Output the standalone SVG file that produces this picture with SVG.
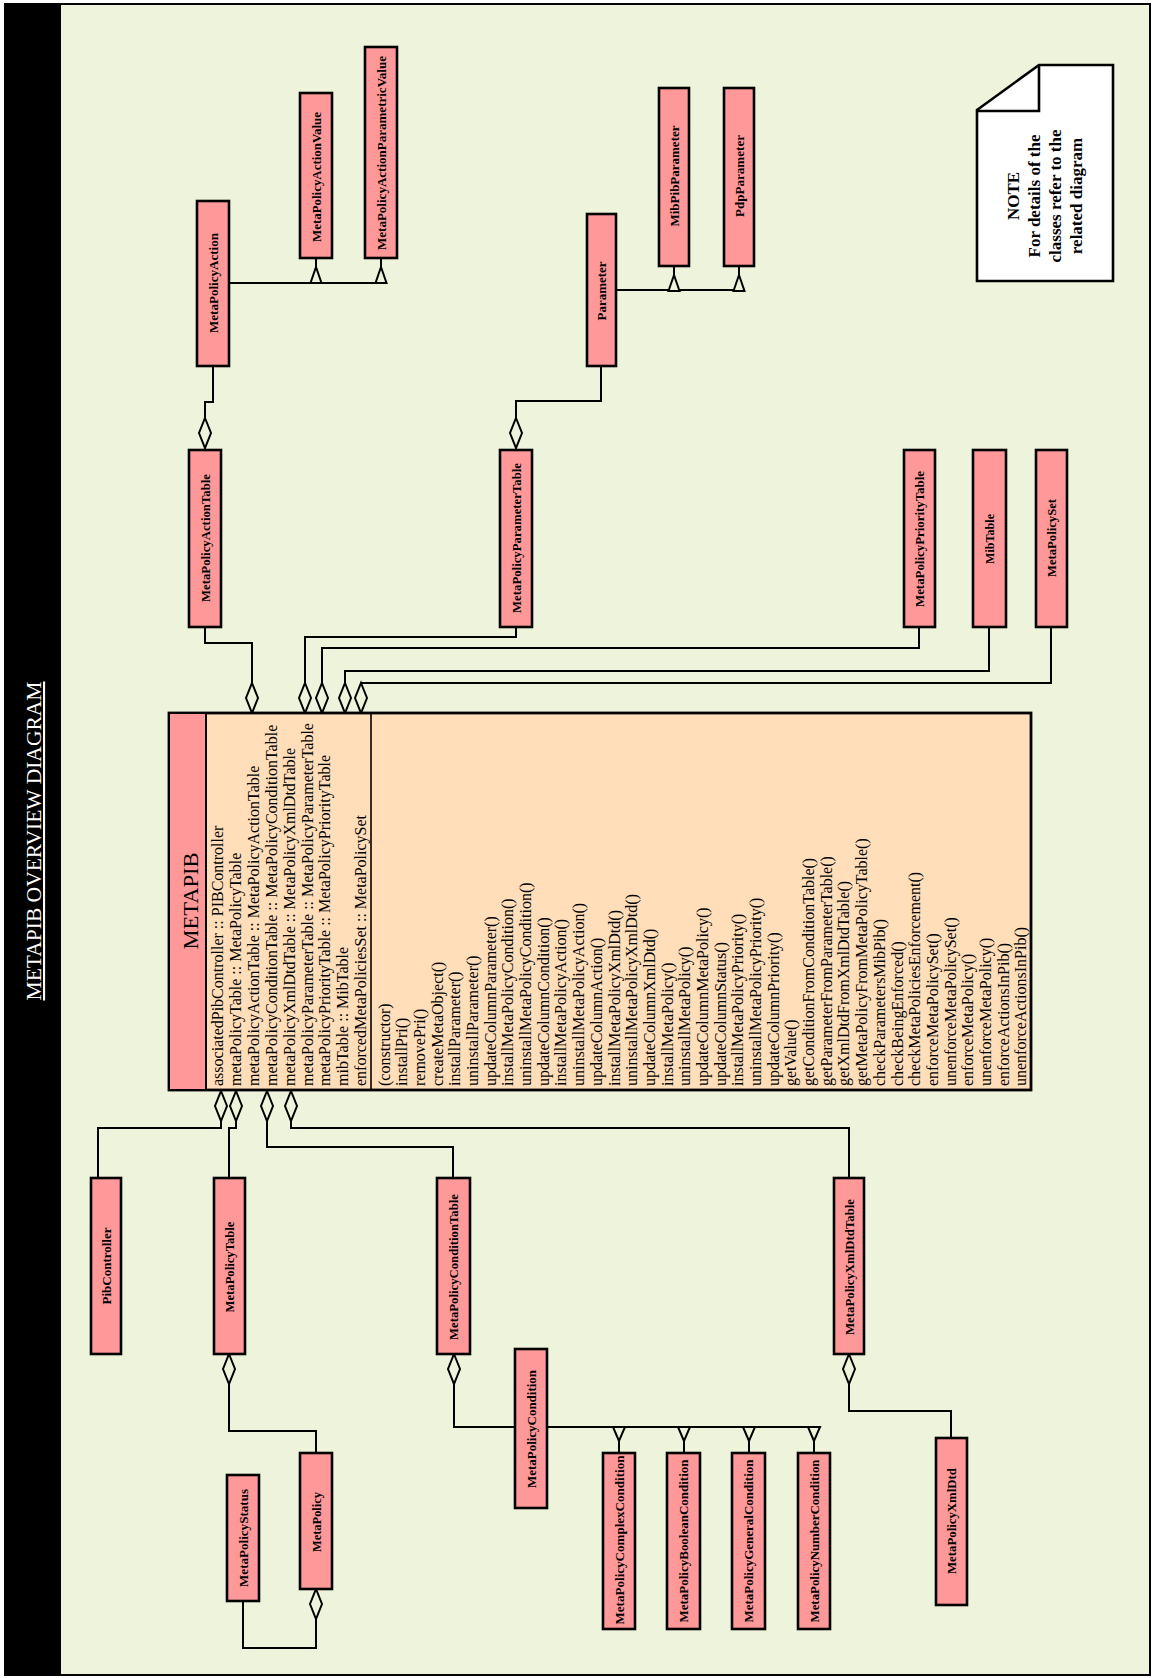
<svg xmlns="http://www.w3.org/2000/svg" width="1154" height="1678" viewBox="0 0 1154 1678">
<style>
.bg{fill:#eef4dc}
.box{fill:#ff9999;stroke:#000;stroke-width:2.6}
.cls{fill:#ffdeb9;stroke:#000;stroke-width:2.8}
.sep{stroke:#000;stroke-width:1.6}
.cn{font-family:"Liberation Serif","Times New Roman",serif;font-weight:bold;font-size:13px;fill:#000;text-anchor:middle}
.mem{font-family:"Liberation Serif","Times New Roman",serif;font-size:16px;fill:#000}
.ttl{font-family:"Liberation Serif","Times New Roman",serif;font-size:21px;fill:#000;text-anchor:middle}
.dtitle{font-family:"Liberation Serif","Times New Roman",serif;font-size:21px;fill:#fff;text-anchor:middle;text-decoration:underline}
.note{font-family:"Liberation Serif","Times New Roman",serif;font-weight:bold;font-size:17px;fill:#000;text-anchor:middle}
.ln{fill:none;stroke:#000;stroke-width:2}
.mk{fill:#eef4dc;stroke:#000;stroke-width:2}
</style>
<defs>
<path id="dia" d="M0,-15 L6,0 L0,15 L-6,0 Z"/>
<path id="triU" d="M0,0 L5.5,16 L-5.5,16 Z"/>
<path id="triD" d="M0,0 L-6,-14 L6,-14 Z"/>
</defs>
<rect x="5" y="4" width="1145" height="1671" class="bg" stroke="#000" stroke-width="2"/>
<rect x="5" y="4" width="56" height="1671" fill="#000"/>
<text class="dtitle" x="41" y="841" transform="rotate(-90 41 841)" textLength="319" lengthAdjust="spacingAndGlyphs">METAPIB OVERVIEW DIAGRAM</text>

<g id="connectors">
<polyline class="ln" points="229,283 387,283"/>
<polyline class="ln" points="316,258 316,267"/>
<polyline class="ln" points="381,258 381,267"/>
<use href="#triU" x="316" y="267" class="mk"/>
<use href="#triU" x="381" y="267" class="mk"/>
<polyline class="ln" points="616,290 745,290"/>
<polyline class="ln" points="674,266 674,275"/>
<polyline class="ln" points="739,266 739,275"/>
<use href="#triU" x="674" y="275" class="mk"/>
<use href="#triU" x="739" y="275" class="mk"/>
<polyline class="ln" points="213,366 213,402 205,402 205,418"/>
<use href="#dia" x="205" y="433" class="mk"/>
<polyline class="ln" points="601,366 601,401 516,401 516,418"/>
<use href="#dia" x="516" y="433" class="mk"/>
<polyline class="ln" points="205,627 205,643 252,643 252,683"/>
<polyline class="ln" points="516,627 516,637 305,637 305,683"/>
<polyline class="ln" points="919,627 919,648 322,648 322,683"/>
<polyline class="ln" points="989,627 989,671 345,671 345,683"/>
<polyline class="ln" points="1051,627 1051,683 361,683"/>
<use href="#dia" x="252" y="698" class="mk"/>
<use href="#dia" x="305" y="698" class="mk"/>
<use href="#dia" x="322" y="698" class="mk"/>
<use href="#dia" x="345" y="698" class="mk"/>
<use href="#dia" x="361" y="698" class="mk"/>
<polyline class="ln" points="221,1121 221,1128 98,1128 98,1178"/>
<polyline class="ln" points="236,1121 236,1128 229,1128 229,1178"/>
<polyline class="ln" points="267,1121 267,1147 453,1147 453,1178"/>
<polyline class="ln" points="291,1121 291,1128 849,1128 849,1178"/>
<use href="#dia" x="221" y="1106" class="mk"/>
<use href="#dia" x="236" y="1106" class="mk"/>
<use href="#dia" x="267" y="1106" class="mk"/>
<use href="#dia" x="291" y="1106" class="mk"/>
<polyline class="ln" points="229,1384 229,1431 316,1431 316,1453"/>
<use href="#dia" x="229" y="1369" class="mk"/>
<polyline class="ln" points="316,1619 316,1648 243,1648 243,1601"/>
<use href="#dia" x="316" y="1604" class="mk"/>
<polyline class="ln" points="454,1384 454,1427 515,1427"/>
<use href="#dia" x="454" y="1369" class="mk"/>
<polyline class="ln" points="547,1427 820,1427"/>
<polyline class="ln" points="619,1441 619,1453"/>
<polyline class="ln" points="684,1441 684,1453"/>
<polyline class="ln" points="749,1441 749,1453"/>
<polyline class="ln" points="814,1441 814,1453"/>
<use href="#triD" x="619" y="1441" class="mk"/>
<use href="#triD" x="684" y="1441" class="mk"/>
<use href="#triD" x="749" y="1441" class="mk"/>
<use href="#triD" x="814" y="1441" class="mk"/>
<polyline class="ln" points="849,1384 849,1411 951,1411 951,1438"/>
<use href="#dia" x="849" y="1369" class="mk"/>
</g>

<g id="MetaPolicyAction"><rect class="box" x="197" y="201" width="32" height="165"/><text class="cn" x="217.5" y="283" transform="rotate(-90 217.5 283)" textLength="100" lengthAdjust="spacingAndGlyphs">MetaPolicyAction</text></g>
<g id="MetaPolicyActionValue"><rect class="box" x="300" y="93" width="32" height="165"/><text class="cn" x="320.5" y="177" transform="rotate(-90 320.5 177)" textLength="130" lengthAdjust="spacingAndGlyphs">MetaPolicyActionValue</text></g>
<g id="MetaPolicyActionParametricValue"><rect class="box" x="365" y="47" width="32" height="211"/><text class="cn" x="385.5" y="153" transform="rotate(-90 385.5 153)" textLength="194" lengthAdjust="spacingAndGlyphs">MetaPolicyActionParametricValue</text></g>
<g id="Parameter"><rect class="box" x="587" y="214" width="29" height="152"/><text class="cn" x="606" y="291" transform="rotate(-90 606 291)" textLength="59" lengthAdjust="spacingAndGlyphs">Parameter</text></g>
<g id="MibPibParameter"><rect class="box" x="659" y="88" width="30" height="178"/><text class="cn" x="678.5" y="176" transform="rotate(-90 678.5 176)" textLength="101" lengthAdjust="spacingAndGlyphs">MibPibParameter</text></g>
<g id="PdpParameter"><rect class="box" x="724" y="88" width="30" height="178"/><text class="cn" x="743.5" y="176" transform="rotate(-90 743.5 176)" textLength="82" lengthAdjust="spacingAndGlyphs">PdpParameter</text></g>
<g id="Note"><polygon points="977,110 1039,65 1113,65 1113,281 977,281" fill="#fff" stroke="#000" stroke-width="2.6"/><polyline points="1039,65 1039,111 977,111" fill="none" stroke="#000" stroke-width="2.6"/>
<text class="note" x="1019" y="196" transform="rotate(-90 1019 196)">NOTE</text>
<text class="note" x="1040" y="196" transform="rotate(-90 1040 196)">For details of the</text>
<text class="note" x="1061" y="196" transform="rotate(-90 1061 196)">classes refer to the</text>
<text class="note" x="1082" y="196" transform="rotate(-90 1082 196)">related diagram</text></g>
<g id="MetaPolicyActionTable"><rect class="box" x="189" y="450" width="32" height="177"/><text class="cn" x="209.5" y="538" transform="rotate(-90 209.5 538)" textLength="128" lengthAdjust="spacingAndGlyphs">MetaPolicyActionTable</text></g>
<g id="MetaPolicyParameterTable"><rect class="box" x="500" y="450" width="32" height="177"/><text class="cn" x="520.5" y="538" transform="rotate(-90 520.5 538)" textLength="150" lengthAdjust="spacingAndGlyphs">MetaPolicyParameterTable</text></g>
<g id="MetaPolicyPriorityTable"><rect class="box" x="904" y="450" width="31" height="177"/><text class="cn" x="924" y="539" transform="rotate(-90 924 539)" textLength="136" lengthAdjust="spacingAndGlyphs">MetaPolicyPriorityTable</text></g>
<g id="MibTable"><rect class="box" x="973" y="450" width="33" height="177"/><text class="cn" x="994" y="539" transform="rotate(-90 994 539)" textLength="50" lengthAdjust="spacingAndGlyphs">MibTable</text></g>
<g id="MetaPolicySet"><rect class="box" x="1036" y="450" width="31" height="177"/><text class="cn" x="1056" y="538" transform="rotate(-90 1056 538)" textLength="78" lengthAdjust="spacingAndGlyphs">MetaPolicySet</text></g>

<g id="METAPIB">
<rect class="cls" x="169" y="713" width="862" height="377"/>
<rect x="169" y="713" width="37" height="377" fill="#ff9999" stroke="#000" stroke-width="2"/>
<line class="sep" x1="371" y1="713" x2="371" y2="1090"/>
<text class="ttl" x="198" y="901" transform="rotate(-90 198 901)" textLength="97" lengthAdjust="spacingAndGlyphs">METAPIB</text>
<g transform="rotate(-90)" class="mem">
<text x="-1086" y="223">associatedPibController :: PIBController</text>
<text x="-1086" y="240.9">metaPolicyTable :: MetaPolicyTable</text>
<text x="-1086" y="258.8">metaPolicyActionTable :: MetaPolicyActionTable</text>
<text x="-1086" y="276.7">metaPolicyConditionTable :: MetaPolicyConditionTable</text>
<text x="-1086" y="294.6">metaPolicyXmlDtdTable :: MetaPolicyXmlDtdTable</text>
<text x="-1086" y="312.5">metaPolicyParameterTable :: MetaPolicyParameterTable</text>
<text x="-1086" y="330.4">metaPolicyPriorityTable :: MetaPolicyPriorityTable</text>
<text x="-1086" y="348.3">mibTable :: MibTable</text>
<text x="-1086" y="366.2">enforcedMetaPoliciesSet :: MetaPolicySet</text>
<text x="-1086" y="389.5">(constructor)</text>
<text x="-1086" y="407.2">installPri()</text>
<text x="-1086" y="424.9">removePri()</text>
<text x="-1086" y="442.6">createMetaObject()</text>
<text x="-1086" y="460.3">installParameter()</text>
<text x="-1086" y="478">uninstallParameter()</text>
<text x="-1086" y="495.6">updateColumnParameter()</text>
<text x="-1086" y="513.3">installMetaPolicyCondition()</text>
<text x="-1086" y="531">uninstallMetaPolicyCondition()</text>
<text x="-1086" y="548.7">updateColumnCondition()</text>
<text x="-1086" y="566.4">installMetaPolicyAction()</text>
<text x="-1086" y="584.1">uninstallMetaPolicyAction()</text>
<text x="-1086" y="601.8">updateColumnAction()</text>
<text x="-1086" y="619.5">installMetaPolicyXmlDtd()</text>
<text x="-1086" y="637.2">uninstallMetaPolicyXmlDtd()</text>
<text x="-1086" y="654.9">updateColumnXmlDtd()</text>
<text x="-1086" y="672.5">installMetaPolicy()</text>
<text x="-1086" y="690.2">uninstallMetaPolicy()</text>
<text x="-1086" y="707.9">updateColumnMetaPolicy()</text>
<text x="-1086" y="725.6">updateColumnStatus()</text>
<text x="-1086" y="743.3">installMetaPolicyPriority()</text>
<text x="-1086" y="761">uninstallMetaPolicyPriority()</text>
<text x="-1086" y="778.7">updateColumnPriority()</text>
<text x="-1086" y="796.4">getValue()</text>
<text x="-1086" y="814.1">getConditionFromConditionTable()</text>
<text x="-1086" y="831.8">getParameterFromParameterTable()</text>
<text x="-1086" y="849.4">getXmlDtdFromXmlDtdTable()</text>
<text x="-1086" y="867.1">getMetaPolicyFromMetaPolicyTable()</text>
<text x="-1086" y="884.8">checkParametersMibPib()</text>
<text x="-1086" y="902.5">checkBeingEnforced()</text>
<text x="-1086" y="920.2">checkMetaPoliciesEnforcement()</text>
<text x="-1086" y="937.9">enforceMetaPolicySet()</text>
<text x="-1086" y="955.6">unenforceMetaPolicySet()</text>
<text x="-1086" y="973.3">enforceMetaPolicy()</text>
<text x="-1086" y="991">unenforceMetaPolicy()</text>
<text x="-1086" y="1008.7">enforceActionsInPib()</text>
<text x="-1086" y="1026.3">unenforceActionsInPib()</text>
</g>
</g>

<g id="PibController"><rect class="box" x="91" y="1178" width="30" height="176"/><text class="cn" x="110.5" y="1266" transform="rotate(-90 110.5 1266)" textLength="77" lengthAdjust="spacingAndGlyphs">PibController</text></g>
<g id="MetaPolicyTable"><rect class="box" x="214" y="1178" width="31" height="176"/><text class="cn" x="234" y="1267" transform="rotate(-90 234 1267)" textLength="91" lengthAdjust="spacingAndGlyphs">MetaPolicyTable</text></g>
<g id="MetaPolicyStatus"><rect class="box" x="227" y="1475" width="32" height="126"/><text class="cn" x="247.5" y="1538" transform="rotate(-90 247.5 1538)" textLength="98" lengthAdjust="spacingAndGlyphs">MetaPolicyStatus</text></g>
<g id="MetaPolicy"><rect class="box" x="300" y="1453" width="32" height="136"/><text class="cn" x="320.5" y="1522" transform="rotate(-90 320.5 1522)" textLength="60" lengthAdjust="spacingAndGlyphs">MetaPolicy</text></g>
<g id="MetaPolicyConditionTable"><rect class="box" x="437" y="1178" width="33" height="176"/><text class="cn" x="458" y="1267" transform="rotate(-90 458 1267)" textLength="146" lengthAdjust="spacingAndGlyphs">MetaPolicyConditionTable</text></g>
<g id="MetaPolicyCondition"><rect class="box" x="515" y="1349" width="32" height="159"/><text class="cn" x="535.5" y="1429" transform="rotate(-90 535.5 1429)" textLength="118" lengthAdjust="spacingAndGlyphs">MetaPolicyCondition</text></g>
<g id="MetaPolicyComplexCondition"><rect class="box" x="603" y="1453" width="32" height="176"/><text class="cn" x="623.5" y="1540" transform="rotate(-90 623.5 1540)" textLength="169" lengthAdjust="spacingAndGlyphs">MetaPolicyComplexCondition</text></g>
<g id="MetaPolicyBooleanCondition"><rect class="box" x="667" y="1453" width="33" height="176"/><text class="cn" x="688" y="1541" transform="rotate(-90 688 1541)" textLength="163" lengthAdjust="spacingAndGlyphs">MetaPolicyBooleanCondition</text></g>
<g id="MetaPolicyGeneralCondition"><rect class="box" x="732" y="1453" width="33" height="176"/><text class="cn" x="753" y="1541" transform="rotate(-90 753 1541)" textLength="163" lengthAdjust="spacingAndGlyphs">MetaPolicyGeneralCondition</text></g>
<g id="MetaPolicyNumberCondition"><rect class="box" x="798" y="1453" width="32" height="176"/><text class="cn" x="818.5" y="1541" transform="rotate(-90 818.5 1541)" textLength="163" lengthAdjust="spacingAndGlyphs">MetaPolicyNumberCondition</text></g>
<g id="MetaPolicyXmlDtdTable"><rect class="box" x="834" y="1178" width="30" height="176"/><text class="cn" x="853.5" y="1267" transform="rotate(-90 853.5 1267)" textLength="136" lengthAdjust="spacingAndGlyphs">MetaPolicyXmlDtdTable</text></g>
<g id="MetaPolicyXmlDtd"><rect class="box" x="936" y="1438" width="31" height="167"/><text class="cn" x="956" y="1521" transform="rotate(-90 956 1521)" textLength="106" lengthAdjust="spacingAndGlyphs">MetaPolicyXmlDtd</text></g>
</svg>
